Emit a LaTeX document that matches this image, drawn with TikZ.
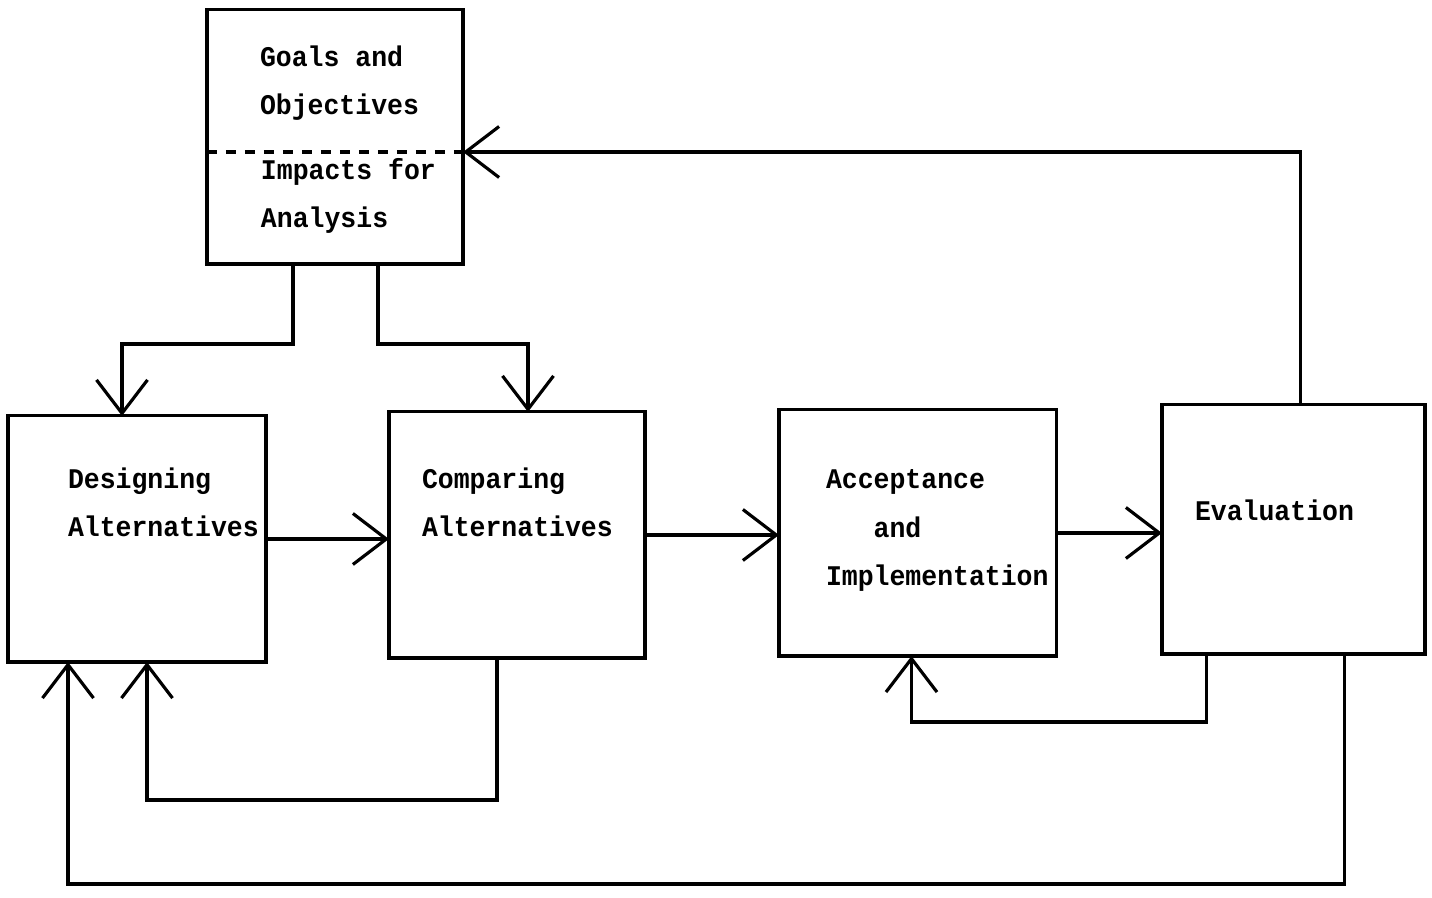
\documentclass[tikz,border=0pt]{standalone}
\usepackage{fontspec}
\newfontfamily\typewriter[FakeStretch=0.93]{Liberation Mono}
\usetikzlibrary{arrows.meta,calc}
\tikzset{
	box/.style={draw, inner sep=0, outer sep=0},
	lbl/.style={inner sep=0, outer sep=0, anchor=base west, align=left,
		font=\typewriter\bfseries\fontsize{8.1}{13.9}\selectfont}
}

\begin{document}
\begin{tikzpicture}[->, >={Straight Barb[length=9.5pt,width=14.5pt]}, x=0.01cm, y=-0.01cm,
		line width=0.9pt]
	\useasboundingbox (0,0) rectangle (1432,898);
	% boxes
	\node[box, minimum width=2.56cm, minimum height=2.54cm] (goals) at (335,137) {};
	\node[box, minimum width=2.58cm, minimum height=2.46cm] (design) at (137,539) {};
	\node[box, minimum width=2.56cm, minimum height=2.46cm] (compare) at (517,535) {};
	\node[box, minimum width=2.77cm, minimum height=2.46cm] (accept) at (917.5,533) {};
	\node[box, minimum width=2.63cm, minimum height=2.49cm] (eval) at (1293.5,529.5) {};
	\draw[-, dash pattern=on 3pt off 2.4pt] ($(goals.west)+(0,15)$) -- ($(goals.east)+(0,15)$);
	% texts (anchored at the baseline of the last line)
	\node[lbl] (goalstxt) at (260,115) {Goals and\\Objectives};
	\node[lbl] (impactstxt) at (261,228) {Impacts for\\Analysis};
	\node[lbl] (designtxt) at (68,537) {Designing\\Alternatives};
	\node[lbl] (comparetxt) at (422,537) {Comparing\\Alternatives};
	\node[lbl] (accepttxt) at (826,586) {Acceptance\\\hphantom{Acc}and\\Implementation};
	\node[lbl] (evaltxt) at (1195,521) {Evaluation};
	% forward flow
	\draw ($(goals.south)+(-42,0)$) -- ++(0,80) -| ($(design.north)+(-15,0)$);
	\draw ($(goals.south)+(43,0)$) -- ++(0,80) -| ($(compare.north)+(11,0)$);
	\draw (design.east) -- (design.east -| compare.west);
	\draw (compare.east) -- (compare.east -| accept.west);
	\draw (accept.east) -- (accept.east -| eval.west);
	% feedback
	\draw ($(eval.north)+(7,0)$) |- ($(goals.east)+(0,15)$);
	\draw ($(compare.south)+(-20,0)$) -- ++(0,142) -| ($(design.south)+(10,0)$);
	\draw ($(eval.south)+(-87,0)$) -- ++(0,68) -| ($(accept.south)+(-6,0)$);
	\draw ($(eval.south)+(51,0)$) -- ++(0,230) -| ($(design.south)+(-69,0)$);
\end{tikzpicture}
\end{document}
